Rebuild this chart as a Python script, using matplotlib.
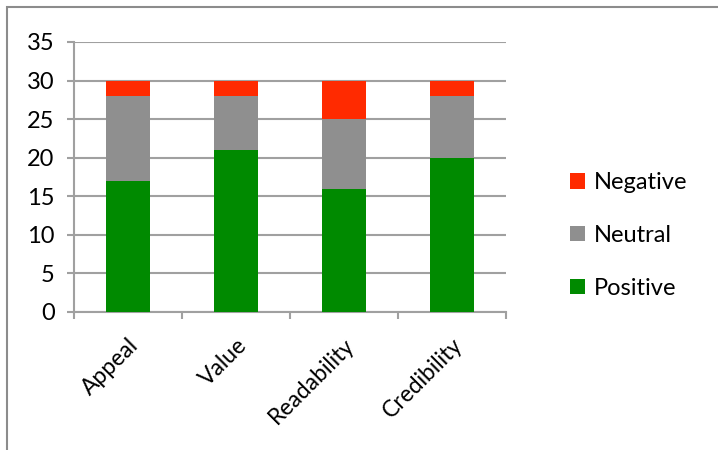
import matplotlib
matplotlib.use("Agg")
import matplotlib.pyplot as plt
from matplotlib.patches import Rectangle
import matplotlib.transforms as mtrans
import numpy as np

categories = ["Appeal", "Value", "Readability", "Credibility"]
positive = [17, 21, 16, 20]
neutral = [11, 7, 9, 8]
negative = [2, 2, 5, 2]
yticks = [0, 5, 10, 15, 20, 25, 30, 35]

plt.rcParams['font.family'] = ['Lato', 'DejaVu Sans']

fig = plt.figure(figsize=(7.18, 4.5), dpi=100)
fig.patch.set_facecolor('white')
# outer chart border
fig.patches.append(Rectangle((7/718, -0.1), 1.2, 1 - 7/450 + 0.1, transform=fig.transFigure,
                             fill=False, edgecolor='#8c8c8c', linewidth=1.5, zorder=0))

ax = fig.add_axes([74/718, 1 - 312/450, (506 - 74)/718, (312 - 42)/450])
x = np.arange(len(categories))
w = 0.4
pos = np.array(positive)
neu = np.array(neutral)
neg = np.array(negative)
b1 = ax.bar(x, pos, w, color='#008A00', label='Positive', zorder=3)
b2 = ax.bar(x, neu, w, bottom=pos, color='#8F8F8F', label='Neutral', zorder=3)
b3 = ax.bar(x, neg, w, bottom=pos + neu, color='#FF2A00', label='Negative', zorder=3)

ax.set_xlim(-0.5, len(categories) - 0.5)
ax.set_ylim(0, 35)
ax.set_yticks(yticks)
ax.set_yticklabels([str(v) for v in yticks], fontsize=17)
ax.yaxis.grid(True, color='#a0a0a0', linewidth=1.5, zorder=0)
ax.set_axisbelow(True)

ax.set_xticks(x)
ax.set_xticklabels(categories, fontsize=16.5, rotation=45, ha='right', rotation_mode='anchor')
ax.set_xticks(np.arange(len(categories) + 1) - 0.5, minor=True)
ax.tick_params(axis='x', which='major', length=0, pad=16)
ax.tick_params(axis='x', which='minor', length=5, width=1.5, color='#a0a0a0', direction='out')
ax.tick_params(axis='y', length=5, width=1.5, color='#a0a0a0', pad=9)
off = mtrans.ScaledTranslation(0/100, 0, fig.dpi_scale_trans)
for lab in ax.get_xticklabels():
    lab.set_transform(lab.get_transform() + off)

for s in ['top', 'right']:
    ax.spines[s].set_visible(False)
for s in ['left', 'bottom']:
    ax.spines[s].set_color('#a0a0a0')
    ax.spines[s].set_linewidth(1.5)

leg = fig.legend([b3, b2, b1], ['Negative', 'Neutral', 'Positive'],
                 loc='upper left', bbox_to_anchor=(570/718, 1 - 172/450),
                 frameon=False, fontsize=17, handlelength=0.65, handleheight=0.65,
                 handletextpad=0.35, labelspacing=1.35, borderpad=0, borderaxespad=0)

fig.savefig('out.png', dpi=100, facecolor='white')
